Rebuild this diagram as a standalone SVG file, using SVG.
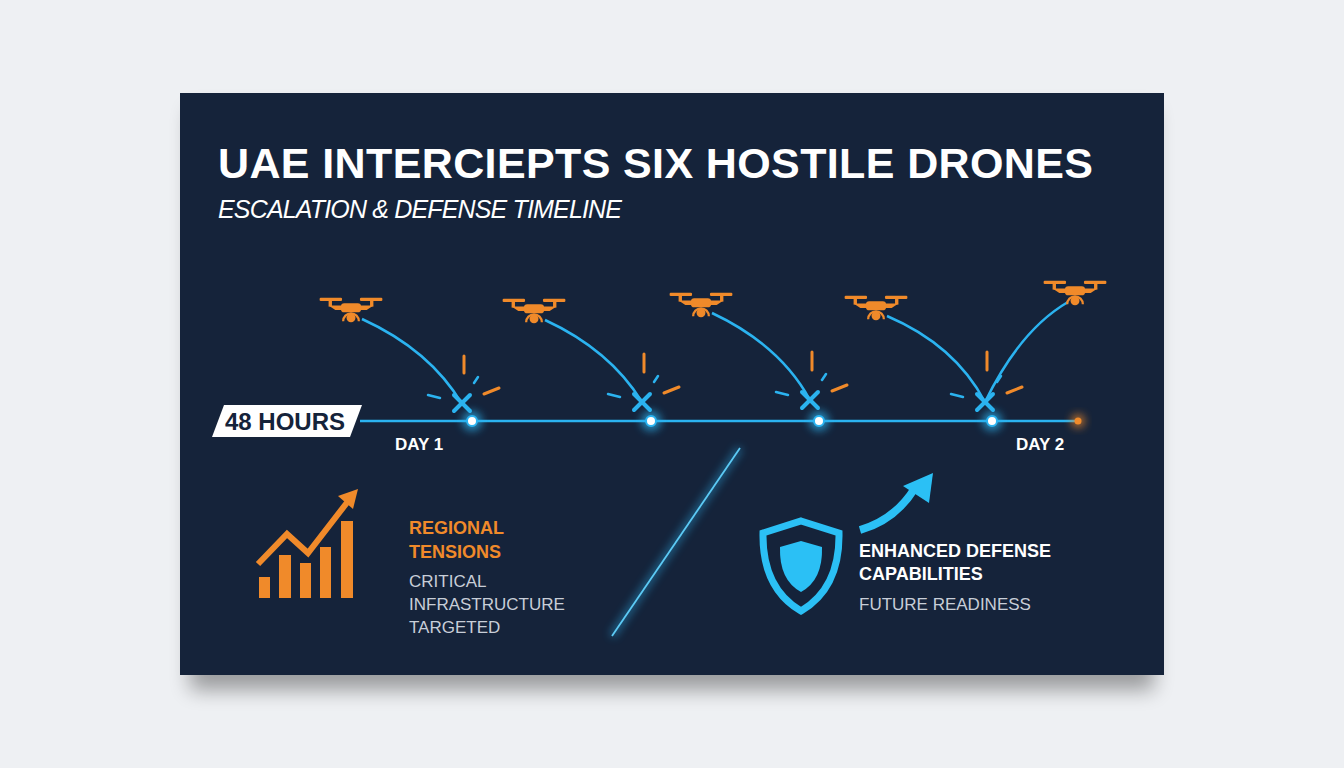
<svg xmlns="http://www.w3.org/2000/svg" width="1344" height="768" viewBox="0 0 1344 768">
<defs>
<style>
.t{font-family:"Liberation Sans",Arial,sans-serif}
.arc{fill:none;stroke:#2bb3f0;stroke-width:2.5}
.x{stroke:#2bb3f0;stroke-width:4;stroke-linecap:round}
.sp{stroke:#f08a2a;stroke-width:3;stroke-linecap:round}
.spb{stroke:#2bb3f0;stroke-width:2.5;stroke-linecap:round}
.dot{fill:#fff;stroke:#2bb3f0;stroke-width:2}
</style>
<filter id="gl" x="-50%" y="-50%" width="200%" height="200%"><feGaussianBlur stdDeviation="4"/></filter>
<filter id="sh" x="-10%" y="-10%" width="120%" height="130%"><feGaussianBlur stdDeviation="10"/></filter>
<g id="drone" fill="#f08a2a">
<rect x="-28" y="-11" width="20" height="3" rx="1"/>
<rect x="8" y="-11" width="20" height="3" rx="1"/>
<rect x="-20" y="-9" width="3" height="6"/>
<rect x="17" y="-9" width="3" height="6"/>
<path d="M-20 -4 H20 L14 0 H-14 Z"/>
<rect x="-9" y="-6" width="18" height="8" rx="3"/>
<path d="M-8 10 A8 8 0 0 1 8 10 L6 10 A6 6 0 0 0 -6 10 Z"/>
<circle cx="0" cy="7" r="4"/>
</g>
</defs>
<rect width="1344" height="768" fill="#eef0f3"/>
<rect x="190" y="110" width="964" height="580" fill="#000" opacity="0.35" filter="url(#sh)"/>
<rect x="180" y="93" width="984" height="582" fill="#15233a"/>
<g id="title" class="t">
<text x="218" y="178" font-size="43" font-weight="bold" fill="#fff" textLength="875">UAE INTERCIEPTS SIX HOSTILE DRONES</text>
<text x="218" y="218" font-size="25" font-style="italic" fill="#fff" textLength="404">ESCALATION &amp; DEFENSE TIMELINE</text>
</g>
<g id="connectors">
<line x1="360" y1="421" x2="1078" y2="421" stroke="#2bb3f0" stroke-width="6" opacity="0.4" filter="url(#gl)"/>
<line x1="360" y1="421" x2="1078" y2="421" stroke="#2bb3f0" stroke-width="2.5"/>
<path class="arc" d="M362 319 Q430 350 462 404"/>
<path class="arc" d="M545 320 Q610 350 642 402"/>
<path class="arc" d="M712 313 Q780 345 810 400"/>
<path class="arc" d="M887 316 Q955 345 985 402"/>
<path class="arc" d="M985 402 Q1020 330 1068 302"/>
<line x1="612" y1="636" x2="740" y2="448" stroke="#2bb3f0" stroke-width="6" opacity="0.5" filter="url(#gl)"/>
<line x1="612" y1="636" x2="740" y2="448" stroke="#5ccaf5" stroke-width="1.8"/>
</g>
<g id="drones">
<use href="#drone" transform="translate(351,310) scale(1.12)"/>
<use href="#drone" transform="translate(534,311) scale(1.12)"/>
<use href="#drone" transform="translate(701,305) scale(1.12)"/>
<use href="#drone" transform="translate(876,308) scale(1.12)"/>
<use href="#drone" transform="translate(1075,293) scale(1.12)"/>
</g>
<g id="intercepts">
<g transform="translate(462,403)"><line class="x" x1="-8" y1="-8" x2="8" y2="8"/><line class="x" x1="8" y1="-8" x2="-8" y2="8"/><line class="sp" x1="2" y1="-47" x2="2" y2="-30"/><line class="sp" x1="22" y1="-9" x2="37" y2="-15"/><line class="spb" x1="12" y1="-20" x2="16" y2="-26"/><line class="spb" x1="-34" y1="-8" x2="-22" y2="-5"/></g>
<g transform="translate(642,402)"><line class="x" x1="-8" y1="-8" x2="8" y2="8"/><line class="x" x1="8" y1="-8" x2="-8" y2="8"/><line class="sp" x1="2" y1="-48" x2="2" y2="-30"/><line class="sp" x1="22" y1="-9" x2="37" y2="-15"/><line class="spb" x1="12" y1="-20" x2="16" y2="-26"/><line class="spb" x1="-34" y1="-8" x2="-22" y2="-5"/></g>
<g transform="translate(810,400)"><line class="x" x1="-8" y1="-8" x2="8" y2="8"/><line class="x" x1="8" y1="-8" x2="-8" y2="8"/><line class="sp" x1="2" y1="-48" x2="2" y2="-30"/><line class="sp" x1="22" y1="-9" x2="37" y2="-15"/><line class="spb" x1="12" y1="-20" x2="16" y2="-26"/><line class="spb" x1="-34" y1="-8" x2="-22" y2="-5"/></g>
<g transform="translate(985,402)"><line class="x" x1="-8" y1="-8" x2="8" y2="8"/><line class="x" x1="8" y1="-8" x2="-8" y2="8"/><line class="sp" x1="2" y1="-50" x2="2" y2="-32"/><line class="sp" x1="22" y1="-9" x2="37" y2="-15"/><line class="spb" x1="12" y1="-20" x2="16" y2="-26"/><line class="spb" x1="-34" y1="-8" x2="-22" y2="-5"/></g>
</g>
<g id="dots">
<circle cx="472" cy="421" r="10" fill="#2bb3f0" opacity="0.7" filter="url(#gl)"/><circle class="dot" cx="472" cy="421" r="5"/>
<circle cx="651" cy="421" r="10" fill="#2bb3f0" opacity="0.7" filter="url(#gl)"/><circle class="dot" cx="651" cy="421" r="5"/>
<circle cx="819" cy="421" r="10" fill="#2bb3f0" opacity="0.7" filter="url(#gl)"/><circle class="dot" cx="819" cy="421" r="5"/>
<circle cx="992" cy="421" r="10" fill="#2bb3f0" opacity="0.7" filter="url(#gl)"/><circle class="dot" cx="992" cy="421" r="5"/>
<circle cx="1078" cy="421" r="7" fill="#f08a2a" opacity="0.7" filter="url(#gl)"/><circle cx="1078" cy="421" r="3.5" fill="#f08a2a"/>
</g>
<g id="label48" class="t">
<path d="M224 405 H362 L350 437 H212 Z" fill="#fff"/>
<text x="285" y="430" font-size="24" font-weight="bold" fill="#15233a" text-anchor="middle">48 HOURS</text>
<text x="395" y="450" font-size="17" font-weight="bold" fill="#fff">DAY 1</text>
<text x="1016" y="450" font-size="17" font-weight="bold" fill="#fff">DAY 2</text>
</g>
<g id="tensions">
<g fill="#f08a2a">
<rect x="259" y="577" width="11" height="21"/>
<rect x="279" y="555" width="12" height="43"/>
<rect x="300" y="563" width="11" height="35"/>
<rect x="320" y="547" width="11" height="51"/>
<rect x="341" y="521" width="12" height="77"/>
</g>
<path d="M258 564 L287 534 L308 553 L349 500" fill="none" stroke="#f08a2a" stroke-width="6" stroke-linejoin="miter"/>
<path d="M338 496 L358 489 L353 509 Z" fill="#f08a2a"/>
<text class="t" x="409" y="534" font-size="18" font-weight="bold" fill="#f08a2a">REGIONAL</text>
<text class="t" x="409" y="558" font-size="18" font-weight="bold" fill="#f08a2a">TENSIONS</text>
<text class="t" x="409" y="587" font-size="17" fill="#c8ced8">CRITICAL</text>
<text class="t" x="409" y="610" font-size="17" fill="#c8ced8">INFRASTRUCTURE</text>
<text class="t" x="409" y="633" font-size="17" fill="#c8ced8">TARGETED</text>
</g>
<g id="defense">
<path d="M801 521 L839 533 Q840 588 801 611 Q762 588 763 533 Z" fill="none" stroke="#2bc0f5" stroke-width="7"/>
<path d="M801 541 L822 547 Q823 580 801 592 Q779 580 780 547 Z" fill="#2bc0f5"/>
<path d="M860 530 Q895 520 915 488" fill="none" stroke="#2bc0f5" stroke-width="8"/>
<path d="M903 486 L933 473 L929 503 Z" fill="#2bc0f5"/>
<text class="t" x="859" y="557" font-size="18" font-weight="bold" fill="#fff">ENHANCED DEFENSE</text>
<text class="t" x="859" y="580" font-size="18" font-weight="bold" fill="#fff">CAPABILITIES</text>
<text class="t" x="859" y="610" font-size="17" fill="#c8ced8">FUTURE READINESS</text>
</g>
</svg>
